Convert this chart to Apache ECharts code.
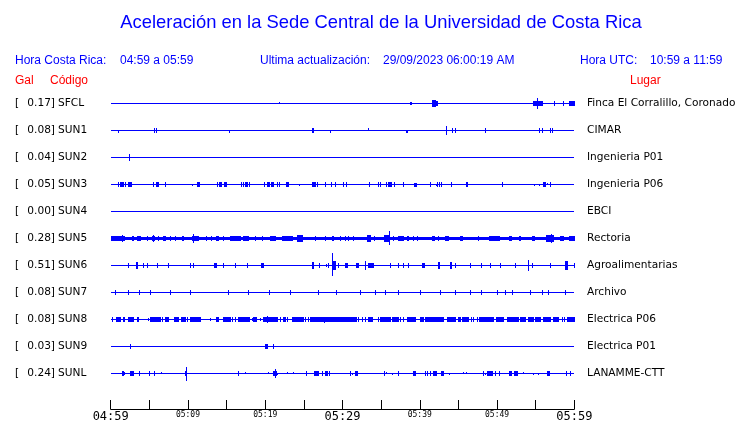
<!DOCTYPE html>
<html><head><meta charset="utf-8">
<script src="https://cdn.jsdelivr.net/npm/echarts@6/dist/echarts.min.js"></script>
<style>html,body{margin:0;padding:0;background:#fff}#c{width:740px;height:423px}</style>
</head><body><div id="c"></div>
<script>
// ---------- data ----------
const chartTitle = 'Aceleración en la Sede Central de la Universidad de Costa Rica';
const localRange = '04:59 a 05:59';
const utcRange = '10:59 a 11:59';
const updated = '29/09/2023 06:00:19 AM';
const codes = ['SFCL','SUN1','SUN2','SUN3','SUN4','SUN5','SUN6','SUN7','SUN8','SUN9','SUNL'];
const places = ['Finca El Corralillo, Coronado','CIMAR','Ingenieria P01','Ingenieria P06','EBCI','Rectoria','Agroalimentarias','Archivo','Electrica P06','Electrica P01','LANAMME-CTT'];
const galValues = ['0.17','0.08','0.04','0.05','0.00','0.28','0.51','0.08','0.08','0.03','0.24'];
const labelMinutes = [0,10,20,30,40,50,60];
const tickLabels = ['04:59','05:09','05:19','05:29','05:39','05:49','05:59'];
const bigLabels = ['04:59','05:29','05:59'];

// events per station: [startMinute, endMinute, upAmplitude, downAmplitude?] (minutes after 04:59)
const evSFCL = [[21.78,21.78,1,0],[38.73,38.85,1],[41.58,42.0,2.5],[42.0,42.2,1.5],[54.65,55.82,2],[55.17,55.17,5],[57.37,57.37,2],[58.53,58.53,2],[59.31,59.95,2]];
const evSUN1 = [[0.94,0.94,0,1.5],[5.6,5.6,2],[5.86,5.86,2],[15.31,15.31,0,1.5],[26.05,26.05,2],[26.18,26.18,2],[28.38,28.38,0,1.5],[33.34,33.34,1.5,0],[38.22,38.4,0,1.5],[43.39,43.39,4],[44.17,44.17,1.5],[44.56,44.56,2],[48.45,48.45,2],[55.43,55.43,2],[55.82,55.82,2],[56.85,56.85,2],[57.11,57.11,2]];
const evSUN2 = [[2.37,2.37,3]];
const evSUN3 = [[0.94,0.94,2],[1.2,1.59,2],[1.85,1.85,1.5],[2.24,2.62,2],[5.47,5.47,2],[5.82,6.16,2],[7.03,7.03,2],[10.52,10.52,0,1],[11.13,11.43,2],[13.76,13.76,2],[14.02,14.28,2],[14.7,14.92,2],[16.86,16.86,2],[17.12,17.12,2],[17.38,17.64,2],[17.9,17.9,2],[19.84,19.84,2],[20.19,20.49,2],[20.75,21.01,2],[21.52,21.52,2],[21.78,21.78,2],[22.69,22.9,2],[24.37,24.37,0,1],[26.0,26.44,2],[26.7,26.7,2],[27.74,27.74,2],[28.51,28.51,2],[29.03,29.03,2],[30.06,30.06,2],[30.45,30.45,2],[33.43,33.43,2],[34.6,34.6,2],[34.85,34.85,2],[35.63,35.63,2],[35.89,35.89,2],[36.0,36.28,2],[36.66,36.66,2],[37.83,37.83,2],[39.25,39.5,1,2],[41.32,41.32,2],[42.1,42.1,0,1],[42.22,42.22,2],[42.48,42.48,2],[42.74,42.74,2],[44.04,44.04,2],[45.98,46.11,2],[50.65,50.65,2],[54.78,54.78,0,1],[55.43,55.43,0,1],[56.0,56.2,1.5,2],[56.47,56.47,1,0],[56.85,56.85,2]];
const evSUN4 = [];
const evSUN5 = [[0,60,1.3],[0,1.7,2],[1.46,1.46,3],[2.76,2.89,2],[3.4,3.8,2],[4.7,4.7,2],[5.34,5.6,2],[5.47,5.47,3],[6.12,6.12,2],[6.77,7.03,2],[7.67,7.67,2],[8.32,8.32,2],[9.23,9.36,2],[10.52,11.3,2],[10.65,10.65,4],[12.33,12.33,2],[12.98,12.98,2],[13.63,13.89,2],[14.54,14.54,2],[15.44,16.74,2],[17.12,17.77,2],[18.7,18.7,2],[19.6,19.6,2],[20.6,21.3,2],[22.17,23.46,2],[24.11,24.76,2.5],[26.44,26.44,2],[27.74,27.74,2],[28.64,28.77,2],[29.68,29.68,2],[30.32,30.32,2],[30.71,30.71,2],[31.36,31.36,2],[33.17,33.56,2.5],[34.08,34.08,2],[35.37,35.89,2.5],[36.02,36.02,7,6],[36.53,36.53,2],[37.18,37.83,2],[38.35,38.48,2],[39.12,39.12,2],[39.64,39.64,2],[41.58,41.84,2],[42.35,42.35,2],[43.3,43.6,2],[45.2,45.5,2],[47.5,47.6,2],[49.0,50.2,2],[51.5,51.8,2],[52.8,53.0,2],[54.5,54.8,2],[56.4,57.3,2.5],[57.0,57.0,4],[58.2,58.5,2],[59.3,59.9,2]];
const evSUN6 = [[2.24,2.24,2],[3.27,3.45,2.5],[4.18,4.18,2],[4.7,4.7,2],[5.99,5.99,2],[7.42,7.42,2],[10.26,10.26,2],[10.65,10.65,2],[13.4,13.6,1.5],[14.54,14.54,2],[16.09,16.09,2],[17.64,17.64,2],[19.45,19.7,1.5],[26.05,26.18,2.5],[26.96,26.96,1.5],[27.86,27.86,1],[28.12,28.12,2],[28.6,28.6,12,10],[28.7,29.0,4],[29.42,29.42,2],[30.32,30.58,2],[31.75,32.0,2],[32.91,32.91,4],[33.3,33.95,2],[36.15,36.15,2],[37.18,37.18,1.5],[37.83,37.83,2],[38.48,38.48,1.5],[40.3,40.55,2],[42.3,42.5,2.5],[43.85,44.1,2.5],[44.56,44.56,2],[46.5,46.5,2],[47.93,47.93,2],[49.1,49.1,2],[50.39,50.39,2],[52.33,52.33,2],[54.01,54.01,5],[54.53,54.53,2],[56.85,56.85,2],[58.8,59.0,4],[59.9,59.9,2]];
const evSUN7 = [[0.57,0.57,2],[2.24,2.24,2],[3.66,3.66,1.5],[5.09,5.09,2],[7.67,7.67,1.5],[10.26,10.26,2],[15.18,15.18,2],[17.77,17.77,1.5],[20.49,20.49,2],[23.2,23.2,1.5],[26.83,26.83,2],[29.16,29.16,2],[32.26,32.26,1.5],[34.21,34.21,2],[35.5,35.5,2],[37.18,37.18,1.5],[40.03,40.03,2],[42.61,42.61,2],[44.56,44.56,1.5],[46.5,46.5,2],[47.93,47.93,2],[50.0,50.0,2],[51.04,51.04,2],[51.94,51.94,2],[54.27,54.27,2],[55.82,55.82,1.5],[56.59,56.59,2],[58.79,58.79,2]];
const evSUN8 = [[0.17,0.17,1.5],[0.69,1.2,2],[1.59,1.72,2],[2.24,2.76,2],[2.89,2.89,2],[3.4,3.53,2],[4.83,4.83,1],[5.09,6.38,2],[6.64,6.64,2],[7.03,7.42,2],[8.19,8.71,2],[9.1,9.62,2],[9.87,9.87,2],[10.26,11.56,2],[12.85,12.85,1],[13.63,13.89,2],[14.54,15.44,2],[15.7,15.7,2],[16.09,16.09,2],[16.48,17.9,2],[18.29,18.29,1],[18.42,18.8,2],[19.32,19.32,1],[19.71,21.52,2],[20.23,20.23,3],[21.91,21.91,2],[22.3,22.56,2],[22.82,22.82,2],[23.46,24.76,2],[24.89,24.89,2],[25.15,25.15,2],[25.53,25.53,2],[25.79,27.99,2],[27.6,27.6,1,3],[28.12,29.68,2],[29.68,31.75,2],[32.0,32.0,2],[32.52,32.52,2],[32.91,32.91,2],[33.3,33.82,2],[34.6,34.6,2],[34.85,36.15,2],[36.41,37.18,2],[37.44,37.44,2],[37.83,37.83,2],[38.35,38.35,2],[38.48,39.38,2],[40.03,40.42,2],[40.67,43.0,2],[43.52,44.56,2],[44.95,45.21,2],[45.46,46.24,2],[46.63,46.63,2],[46.89,46.89,2],[47.41,47.41,2],[47.67,49.36,2],[49.49,49.49,2],[49.87,50.78,2],[51.29,52.58,2],[52.71,52.71,2],[52.97,53.62,2],[54.01,54.65,2],[54.91,55.56,2],[55.95,56.85,2],[57.24,57.76,2],[57.89,57.89,2],[58.4,58.4,2],[58.66,58.66,2],[59.05,60,2]];
const evSUN9 = [[2.5,2.5,2],[20.0,20.2,1.5,2],[21.01,21.01,2]];
const evSUNL = [[1.4,1.55,2],[1.72,1.72,1],[2.5,2.89,2],[3.66,3.66,1.5],[4.96,4.96,1.5],[5.6,5.6,1.5],[6.51,6.51,1,0],[9.65,9.8,2],[9.75,9.75,6,7],[16.48,16.48,1.5],[17.38,17.38,1,0],[20.36,20.36,1,0],[21.01,21.39,2],[21.26,21.26,4],[21.52,21.52,0,1],[22.82,22.82,1,0],[23.59,23.59,1,0],[25.27,25.27,1.5],[26.31,26.83,2],[27.35,27.35,1.5],[27.74,27.99,1.5],[28.25,28.25,1.5],[30.97,30.97,1.5],[31.23,31.23,0,1],[31.62,31.87,2],[35.37,35.37,1.5],[35.63,35.63,1,0],[36.41,36.41,0,1],[37.18,37.18,1.5],[39.12,39.38,2],[40.67,40.67,1.5],[40.93,40.93,1.5],[41.32,41.32,1.5],[41.71,42.1,2],[42.74,43.0,2],[43.78,43.78,0,1],[45.59,45.59,1,0],[45.98,45.98,1,0],[48.19,48.19,1.5],[48.45,48.45,0,1],[48.71,49.36,2],[49.75,49.75,1.5],[50.26,50.26,1.5],[51.55,51.81,2],[52.2,52.58,2],[53.36,53.36,1,0],[54.65,54.65,0,1],[55.3,55.3,0,1],[56.47,56.72,2],[58.92,58.92,1.5],[59.43,59.43,1.5]];
const stationEvents = [evSFCL,evSUN1,evSUN2,evSUN3,evSUN4,evSUN5,evSUN6,evSUN7,evSUN8,evSUN9,evSUNL];

// ---------- chart ----------
const BLUE = '#0000ff', RED = '#ff0000';
const AMP_PER_ROW = 27;
const chart = echarts.init(document.getElementById('c'), null, {renderer:'canvas'});

const baseItems = codes.map((c,i)=>[i]);
const eventItems = [];
stationEvents.forEach((ev,row)=>ev.forEach(e=>{
  eventItems.push([row, e[0], e[1], e[2], e.length>3 ? e[3] : e[2]]);
}));

chart.setOption({
  animation:false,
  backgroundColor:'#fff',
  grid:{left:110.7, right:165.7, top:89.5, bottom:14},
  xAxis:{
    type:'value', min:0, max:60, interval:5, position:'bottom',
    splitLine:{show:false},
    axisLine:{onZero:false, lineStyle:{color:'#000', width:1}},
    axisTick:{inside:true, length:9, lineStyle:{color:'#000', width:1}},
    axisLabel:{
      margin:1, showMinLabel:true, showMaxLabel:true, hideOverlap:false,
      formatter:function(v){
        const k = labelMinutes.indexOf(Math.round(v));
        if (k < 0 || Math.abs(v-Math.round(v))>1e-6) return '';
        const t = tickLabels[k];
        return bigLabels.indexOf(t) >= 0 ? '{big|'+t+'}' : '{small|'+t+'}';
      },
      rich:{
        big:{fontFamily:'DejaVu Sans Mono', fontSize:12, color:'#000', lineHeight:13},
        small:{fontFamily:'DejaVu Sans Mono', fontSize:8, color:'#000', lineHeight:9}
      }
    }
  },
  yAxis:{type:'value', min:-0.5, max:11.333, inverse:true, show:false},
  series:[
    {
      type:'custom', silent:true, clip:false, data:baseItems,
      renderItem:function(params, api){
        const row = api.value(0);
        const p0 = api.coord([0,row]), p1 = api.coord([60,row]);
        return {type:'rect', shape:{x:Math.round(p0[0]), y:Math.round(p0[1]), width:Math.round(p1[0])-Math.round(p0[0]), height:1}, style:{fill:BLUE}};
      }
    },
    {
      type:'custom', silent:true, clip:false, data:eventItems,
      renderItem:function(params, api){
        const row = api.value(0), t0 = api.value(1), t1 = api.value(2), up = api.value(3), dn = api.value(4);
        const p0 = api.coord([t0,row]), p1 = api.coord([t1,row]);
        const unit = api.size([0,1])[1] / AMP_PER_ROW;
        const x0 = Math.round(p0[0]);
        const w = Math.max(1, Math.round(p1[0]) - x0 + (t1>t0 ? 1 : 0));
        const yb = Math.round(p0[1]);
        const top = yb - Math.round(up*unit);
        const h = Math.round(up*unit) + Math.round(dn*unit) + 1;
        return {type:'rect', shape:{x:x0, y:top, width:w, height:h}, style:{fill:BLUE}};
      }
    }
  ]
});

function txt(x, y, s, font, color, align){
  return {type:'text', x:x, y:y, silent:true,
    style:{text:s, font:font, fill:color, textAlign:align||'left', align:align||'left', textVerticalAlign:'middle', verticalAlign:'middle'}};
}
const HF = '12px "Liberation Sans", Arial, sans-serif';
const LF = '10.6px "DejaVu Sans", sans-serif';
const g = [
  txt(381, 22.5, chartTitle, '18.4px "Liberation Sans", Arial, sans-serif', BLUE, 'center'),
  txt(15, 60.5, 'Hora Costa Rica:', HF, BLUE),
  txt(120, 60.5, localRange, HF, BLUE),
  txt(260, 60.5, 'Ultima actualización:', HF, BLUE),
  txt(383, 60.5, updated, HF, BLUE),
  txt(580, 60.5, 'Hora UTC:', HF, BLUE),
  txt(650, 60.5, utcRange, HF, BLUE),
  txt(15, 80.5, 'Gal', HF, RED),
  txt(50, 80.5, 'Código', HF, RED),
  txt(630, 80.5, 'Lugar', HF, RED)
];
codes.forEach((c,i)=>{
  const y = Math.round(chart.convertToPixel({gridIndex:0}, [0,i])[1]) + 0.5;
  g.push(txt(15, y, '[', LF, '#000'));
  g.push(txt(55, y, galValues[i]+']', LF, '#000', 'right'));
  g.push(txt(58, y, c, LF, '#000'));
  g.push(txt(587, y, places[i], LF, '#000'));
});
chart.setOption({graphic:{elements:g}});
</script>
</body></html>
